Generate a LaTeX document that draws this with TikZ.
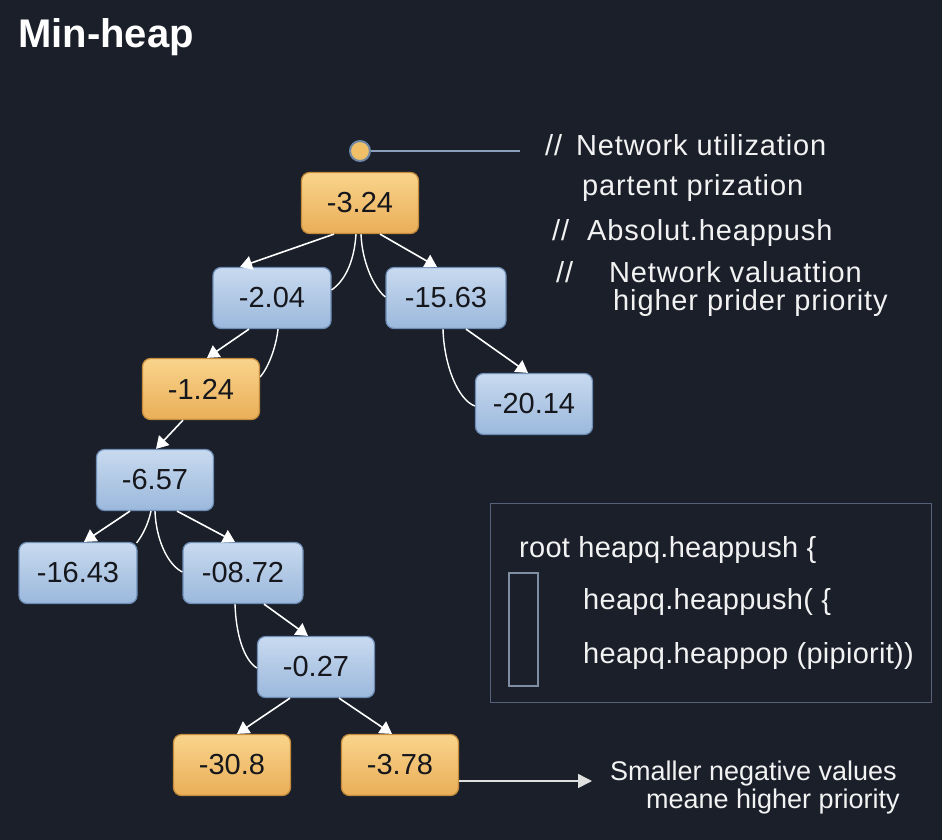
\documentclass[tikz,border=0pt]{standalone}
\usepackage{fontspec}
\setmainfont{Liberation Sans}
\newfontfamily\widesans[LetterSpace=3]{Liberation Sans}
\newfontfamily\codesans[LetterSpace=1]{Liberation Sans}
\usetikzlibrary{arrows.meta,calc}
\definecolor{bg}{HTML}{1A1F2A}
\definecolor{bluetop}{HTML}{C8DAEF}
\definecolor{bluebot}{HTML}{9BB8DC}
\definecolor{blueedge}{HTML}{6E8DB5}
\definecolor{ortop}{HTML}{F9D48C}
\definecolor{orbot}{HTML}{EAAE58}
\definecolor{oredge}{HTML}{C48B3C}
\definecolor{txtdark}{HTML}{15171C}
\definecolor{txtlight}{HTML}{F2F2F2}
\definecolor{dotedge}{HTML}{7088A5}
\definecolor{dotfill}{HTML}{F0C068}
\definecolor{leadline}{HTML}{8AA0BA}
\definecolor{codeedge}{HTML}{56627A}
\definecolor{inneredge}{HTML}{7F8EA3}
\tikzset{
  heapbox/.style={rounded corners=8pt, minimum width=117pt, minimum height=61pt,
    inner sep=0pt, font=\fontsize{29}{34}\selectfont, text=txtdark, line width=1.2pt},
  bluebox/.style={heapbox, draw=blueedge, top color=bluetop, bottom color=bluebot},
  orangebox/.style={heapbox, draw=oredge, top color=ortop, bottom color=orbot},
  arr/.style={draw=white, line width=1.6pt, -{Triangle[width=14pt,length=12pt]}},
  curveline/.style={draw=white, line width=1.4pt},
  lighttext/.style={anchor=base west, inner sep=0pt, text=txtlight, font=\widesans\fontsize{29}{34}\selectfont},
  codetext/.style={anchor=base west, inner sep=0pt, text=txtlight, font=\codesans\fontsize{29}{34}\selectfont},
  notetext/.style={anchor=base east, inner sep=0pt, text=txtlight, font=\fontsize{27}{32}\selectfont}
}
\begin{document}
\begin{tikzpicture}[x=1pt,y=-1pt]
\path[use as bounding box, fill=bg] (0,0) rectangle (942,840);

% title
\node[anchor=base west, inner sep=0pt, text=white, font=\bfseries\fontsize{40}{46}\selectfont] (title) at (18,48) {Min-heap};

% nodes
\node[orangebox] (n1) at (360,203) {-3.24};
\node[bluebox, minimum width=118pt] (n2) at (272,298) {-2.04};
\node[bluebox, minimum width=120pt] (n3) at (446,298) {-15.63};
\node[orangebox] (n4) at (201,389) {-1.24};
\node[bluebox] (n5) at (534,404) {-20.14};
\node[bluebox] (n6) at (155,480) {-6.57};
\node[bluebox, minimum width=118pt] (n7) at (78,573) {-16.43};
\node[bluebox, minimum width=120pt] (n8) at (243,573) {-08.72};
\node[bluebox] (n9) at (316,667) {-0.27};
\node[orangebox] (n10) at (232,765) {-30.8};
\node[orangebox] (n11) at (400,765) {-3.78};

% top dot and lead line
\node[circle, fill=dotfill, draw=dotedge, line width=2pt, minimum size=20pt, inner sep=0pt] (dot) at (360,151) {};
\coordinate (leadend) at (520,151);
\draw[leadline, line width=1.5pt] (dot.east) -- (leadend);

% arrows
\draw[arr] ($(n1.south)+(-26,0)$) -- ($(n2.north)+(-32,0)$);
\draw[arr] ($(n1.south)+(20,0)$) -- ($(n3.north)+(-9,0)$);
\draw[curveline] ($(n1.south)+(-4,0)$) .. controls (354,265) and (343,282) .. ($(n2.east)+(0,-8)$);
\draw[curveline] ($(n1.south)+(1,0)$) .. controls (362,262) and (374,288) .. ($(n3.west)+(0,-1)$);

\draw[arr] ($(n2.south)+(-23,0)$) -- ($(n4.north)+(6,0)$);
\draw[curveline] ($(n2.south)+(6,0)$) .. controls (276,348) and (268,368) .. ($(n4.east)+(0,-12)$);

\draw[arr] ($(n3.south)+(20,0)$) -- ($(n5.north)+(-6,0)$);
\draw[curveline] ($(n3.south)+(-3,0)$) .. controls (444,365) and (458,400) .. ($(n5.west)+(0,2)$);

\draw[arr] ($(n4.south)+(-18,0)$) -- ($(n6.north)+(1,0)$);

\draw[arr] ($(n6.south)+(-25,0)$) -- ($(n7.north)+(6,0)$);
\draw[curveline] ($(n6.south)+(-4,0)$) .. controls (148,525) and (142,536) .. ($(n7.north east)+(-1,1)$);
\draw[curveline] (n6.south) .. controls (156,540) and (168,565) .. ($(n8.west)+(0,-1)$);
\draw[arr] ($(n6.south)+(22,0)$) -- ($(n8.north)+(-8,0)$);

\draw[arr] ($(n8.south)+(21,0)$) -- ($(n9.north)+(-8,0)$);
\draw[curveline] ($(n8.south)+(-8,0)$) .. controls (236,635) and (244,660) .. ($(n9.west)+(0,1)$);

\draw[arr] ($(n9.south)+(-26,0)$) -- ($(n10.north)+(5,0)$);
\draw[arr] ($(n9.south)+(23,0)$) -- ($(n11.north)+(-8,0)$);

% note arrow
\coordinate (tip) at (592,781);
\draw[draw=white!88!black, line width=1.5pt, -{Triangle[width=14pt,length=14pt]}] ($(n11.east)+(0,16)$) -- (tip);
\node[notetext] (note1) at (897,780) {Smaller negative values};
\node[notetext] (note2) at (900,808) {meane higher priority};

% right comments
\node[lighttext] (t1) at (545,155) {//\hspace{14pt}Network utilization};
\node[lighttext] (t2) at (582,195) {partent prization};
\node[lighttext] (t3) at (552,240) {//\hspace{18pt}Absolut.heappush};
\node[lighttext] (t4) at (556,282) {//\hspace{36pt}Network valuattion};
\node[lighttext] (t5) at (613,310) {higher prider priority};

% code box
\node[draw=codeedge, line width=1.5pt, minimum width=441pt, minimum height=199pt, inner sep=0pt] (codebox) at (711,603) {};
\node[draw=inneredge, line width=1.3pt, minimum width=29pt, minimum height=113pt, inner sep=0pt] (marker) at (523.5,629.5) {};
\node[codetext] (c1) at (519,557) {root heapq.heappush \{};
\node[codetext] (c2) at (583,609) {heapq.heappush( \{};
\node[codetext] (c3) at (583,663) {heapq.heappop (pipiorit))};
\end{tikzpicture}
\end{document}
